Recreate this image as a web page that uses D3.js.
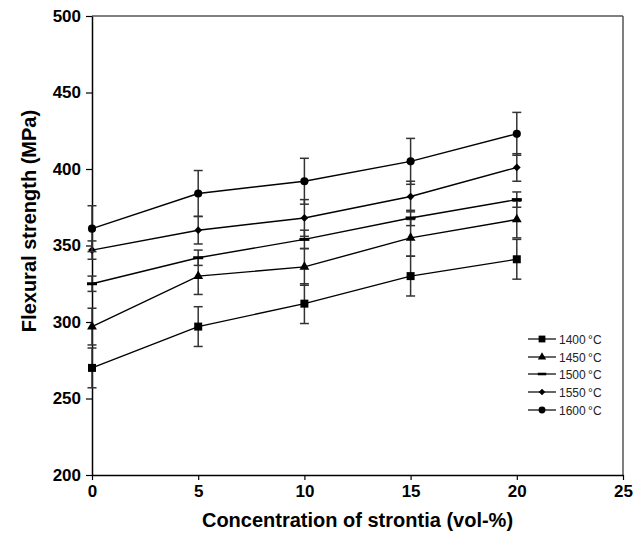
<!DOCTYPE html>
<html>
<head>
<meta charset="utf-8">
<script src="https://cdn.jsdelivr.net/npm/d3@7"></script>
<style>
  body { margin: 0; background: #fff; }
  svg { display: block; font-family: "Liberation Sans", Arial, sans-serif; }
</style>
</head>
<body>
<svg id="chart" width="638" height="534"></svg>
<script>
// strontia content (vol-%)
const concentrations = [0, 5, 10, 15, 20];

const seriesNames = ['1400\u2009°C', '1450\u2009°C', '1500\u2009°C', '1550\u2009°C', '1600\u2009°C'];

// flexural strength (MPa)
const strength1400 = [270, 297, 312, 330, 341];
const strength1450 = [297, 330, 336, 355, 367];
const strength1500 = [325, 342, 354, 368, 380];
const strength1550 = [347, 360, 368, 382, 401];
const strength1600 = [361, 384, 392, 405, 423];

// error bar half-widths (MPa)
const err1400 = [13, 13, 13, 13, 13];
const err1450 = [12, 12, 12, 12, 12];
const err1500 = [5, 5, 6, 5, 5];
const err1550 = [6, 9, 12, 10, 9];
const err1600 = [15, 15, 15, 15, 14];

const xTicks = [0, 5, 10, 15, 20, 25];
const yTicks = [200, 250, 300, 350, 400, 450, 500];

const series = [
    { name: seriesNames[0], vals: strength1400, errs: err1400, marker: 'square' },
    { name: seriesNames[1], vals: strength1450, errs: err1450, marker: 'triangle' },
    { name: seriesNames[2], vals: strength1500, errs: err1500, marker: 'dash' },
    { name: seriesNames[3], vals: strength1550, errs: err1550, marker: 'diamond' },
    { name: seriesNames[4], vals: strength1600, errs: err1600, marker: 'circle' }
];

const margin = { top: 16, right: 15, bottom: 59, left: 92 };
const W = 638, H = 534;
const w = W - margin.left - margin.right;
const h = H - margin.top - margin.bottom;

const svg = d3.select('#chart');
const g = svg.append('g').attr('transform', `translate(${margin.left},${margin.top})`);

const x = d3.scaleLinear().domain([0, 25]).range([0, w]);
const y = d3.scaleLinear().domain([200, 500]).range([h, 0]);

// frame: top and right in grey
g.append('line').attr('x1', 0).attr('x2', w).attr('y1', 0).attr('y2', 0)
    .attr('stroke', '#555').attr('stroke-width', 1.5);
g.append('line').attr('x1', w).attr('x2', w).attr('y1', 0).attr('y2', h)
    .attr('stroke', '#555').attr('stroke-width', 1.5);

// axes
const xAxis = d3.axisBottom(x).tickValues(xTicks).tickSize(5).tickSizeOuter(0).tickPadding(5);
const yAxis = d3.axisLeft(y).tickValues(yTicks).tickSize(6).tickSizeOuter(0).tickPadding(5);

const gx = g.append('g').attr('transform', `translate(0,${h})`).call(xAxis);
const gy = g.append('g').call(yAxis);

[gx, gy].forEach(a => {
    a.select('.domain').attr('stroke', '#000').attr('stroke-width', 1.5);
    a.selectAll('.tick line').attr('stroke', '#000').attr('stroke-width', 1.2);
    a.selectAll('.tick text')
        .attr('fill', '#000')
        .style('font-size', '17px')
        .style('font-weight', 'bold')
        .style('font-family', '"Liberation Sans", Arial, sans-serif');
});

// axis titles
svg.append('text')
    .attr('x', margin.left + w / 2).attr('y', 527)
    .attr('text-anchor', 'middle')
    .style('font-size', '20px').style('font-weight', 'bold')
    .text('Concentration of strontia (vol-%)');

svg.append('text')
    .attr('transform', `translate(36,${221}) rotate(-90)`)
    .attr('text-anchor', 'middle')
    .style('font-size', '20px').style('font-weight', 'bold')
    .text('Flexural strength (MPa)');

// marker drawing
function drawMarker(sel, type, scale) {
    const k = scale || 1;
    if (type === 'dash') {
        return sel.append('rect')
            .attr('x', -5 * k).attr('y', -1.5 * k)
            .attr('width', 10 * k).attr('height', 3 * k)
            .attr('fill', '#000');
    }
    let sym, size, rot = 0;
    if (type === 'square') { sym = d3.symbolSquare; size = 64; }
    if (type === 'triangle') { sym = d3.symbolTriangle; size = 42; }
    if (type === 'diamond') { sym = d3.symbolSquare; size = 30; rot = 45; }
    if (type === 'circle') { sym = d3.symbolCircle; size = 52; }
    return sel.append('path')
        .attr('d', d3.symbol().type(sym).size(size * k * k)())
        .attr('transform', `rotate(${rot})`)
        .attr('fill', '#000');
}

const line = d3.line()
    .x((d, i) => x(concentrations[i]))
    .y(d => y(d));

series.forEach(s => {
    const sg = g.append('g');
    sg.append('path')
        .attr('d', line(s.vals))
        .attr('fill', 'none')
        .attr('stroke', '#000')
        .attr('stroke-width', 1.4);

    // error bars
    s.vals.forEach((v, i) => {
        const cx = x(concentrations[i]);
        const eb = sg.append('g').attr('stroke', '#333').attr('stroke-width', 1.5);
        eb.append('line').attr('x1', cx).attr('x2', cx)
            .attr('y1', y(v - s.errs[i])).attr('y2', y(v + s.errs[i]));
        [v - s.errs[i], v + s.errs[i]].forEach(e => {
            eb.append('line').attr('x1', cx - 4.5).attr('x2', cx + 4.5)
                .attr('y1', y(e)).attr('y2', y(e));
        });
    });

    s.vals.forEach((v, i) => {
        const m = sg.append('g').attr('transform', `translate(${x(concentrations[i])},${y(v)})`);
        drawMarker(m, s.marker);
    });
});

// legend
const legend = svg.append('g');
const legendY = [339, 357, 374, 392, 410];
series.forEach((s, i) => {
    const lg = legend.append('g').attr('transform', `translate(528,${legendY[i]})`);
    lg.append('line').attr('x1', 0).attr('x2', 28).attr('y1', 0).attr('y2', 0)
        .attr('stroke', '#000').attr('stroke-width', 1.2);
    const m = lg.append('g').attr('transform', 'translate(14,0)');
    drawMarker(m, s.marker, 0.85);
    lg.append('text')
        .attr('x', 31).attr('y', 4.5)
        .attr('fill', '#222')
        .style('font-size', '12px')
        .text(s.name);
});
</script>
</body>
</html>
